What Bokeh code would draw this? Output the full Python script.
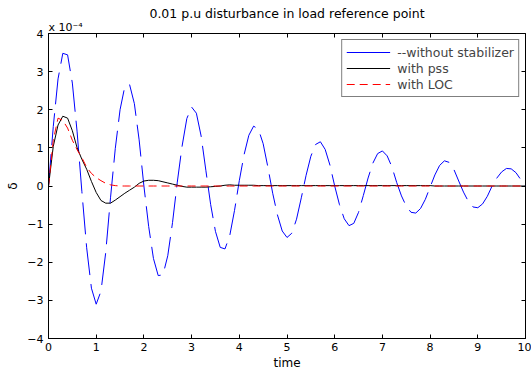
from bokeh.plotting import figure
from bokeh.models import Range1d, FixedTicker, LinearAxis, Title, Legend, LegendItem, ColumnDataSource
from bokeh.embed import file_html
from bokeh.resources import INLINE

# time axis (s)
time = [round(i * 0.1, 1) for i in range(101)]

# delta (x 1e-4) without stabilizer
without_stabilizer = [
    0.00, 1.56, 2.81, 3.48, 3.44, 2.70, 1.42, -0.15, -1.62, -2.68,
    -3.10, -2.76, -1.74, -0.31, 0.98, 2.00, 2.61, 2.66, 2.16, 1.21,
    0.00, -1.06, -1.90, -2.35, -2.33, -1.83, -0.96, 0.10, 1.04, 1.77,
    2.07, 1.91, 1.31, 0.40, -0.49, -1.19, -1.61, -1.65, -1.30, -0.64,
    0.14, 0.82, 1.33, 1.57, 1.49, 1.11, 0.49, -0.19, -0.76, -1.18,
    -1.35, -1.24, -0.87, -0.31, 0.28, 0.78, 1.09, 1.16, 0.96, 0.55,
    0.00, -0.49, -0.86, -1.04, -0.98, -0.69, -0.25, 0.21, 0.60, 0.85,
    0.92, 0.79, 0.50, 0.09, -0.26, -0.53, -0.69, -0.71, -0.59, -0.35,
    -0.03, 0.29, 0.54, 0.66, 0.62, 0.43, 0.13, -0.16, -0.40, -0.55,
    -0.57, -0.47, -0.27, 0.00, 0.21, 0.37, 0.46, 0.45, 0.35, 0.17,
    0.00,
]

# delta (x 1e-4) with pss
with_pss = [
    0.00, 1.04, 1.60, 1.83, 1.78, 1.45, 1.00, 0.70, 0.44, 0.12,
    -0.17, -0.38, -0.45, -0.45, -0.37, -0.28, -0.19, -0.11, -0.03, 0.07,
    0.13, 0.15, 0.15, 0.14, 0.11, 0.08, 0.05, 0.02, -0.01, -0.03,
    -0.03, -0.03, -0.03, -0.03, -0.02, -0.01, 0.00, 0.02, 0.03, 0.02,
    0.02, 0.02, 0.02, 0.02, 0.01, 0.01, 0.01, 0.01, 0.01, 0.01,
    0.01, 0.01, 0.01, 0.01, 0.01, 0.01, 0.01, 0.01, 0.01, 0.01,
    0.01, 0.01, 0.01, 0.01, 0.01, 0.01, 0.01, 0.01, 0.01, 0.01,
    0.01, 0.01, 0.01, 0.01, 0.01, 0.01, 0.01, 0.01, 0.01, 0.01,
    0.01, 0.00, 0.00, 0.00, 0.00, 0.00, 0.00, 0.00, 0.00, 0.00,
    0.00, 0.00, 0.00, 0.00, 0.00, 0.00, 0.00, 0.00, 0.00, 0.00,
    0.00,
]

# delta (x 1e-4) with LOC
with_loc = [
    0.00, 1.20, 1.78, 1.72, 1.52, 1.20, 0.95, 0.74, 0.49, 0.33,
    0.22, 0.14, 0.07, 0.03, 0.01, 0.00, 0.00, 0.00, 0.00, 0.00,
] + [0.00] * 81

x_ticks = [0, 1, 2, 3, 4, 5, 6, 7, 8, 9, 10]
y_ticks = [-4, -3, -2, -1, 0, 1, 2, 3, 4]

FONT = "DejaVu Sans"

p = figure(width=531, height=372, output_backend="svg", toolbar_location=None,
           x_range=Range1d(0, 10), y_range=Range1d(-4, 4),
           min_border_left=48, min_border_right=6, min_border_top=33, min_border_bottom=30)
p.grid.visible = False
p.outline_line_color = "black"
p.outline_line_width = 1
p.background_fill_color = "white"
p.border_fill_color = "white"

for ax, ticks in ((p.xaxis[0], x_ticks), (p.yaxis[0], y_ticks)):
    ax.ticker = FixedTicker(ticks=ticks)
    ax.major_tick_in = 4
    ax.major_tick_out = 0
    ax.minor_tick_line_color = None
    ax.axis_line_color = "black"
    ax.major_label_text_font = FONT
    ax.major_label_text_font_size = "11px"
    ax.major_label_text_color = "black"
    ax.axis_label_text_font = FONT
    ax.axis_label_text_font_size = "12px"
    ax.axis_label_text_font_style = "normal"
    ax.axis_label_text_color = "black"
p.xaxis.major_label_standoff = 4
p.yaxis.major_label_standoff = 5
p.xaxis.axis_label = "time"
p.xaxis.axis_label_standoff = 2
p.yaxis.axis_label = "δ"
p.yaxis.axis_label_standoff = 4

# box ticks on right and top (no labels)
for loc, ticks in (("right", y_ticks), ("above", x_ticks)):
    a = LinearAxis(ticker=FixedTicker(ticks=ticks))
    a.major_tick_in = 4
    a.major_tick_out = 0
    a.minor_tick_line_color = None
    a.axis_line_color = None
    a.major_label_text_font_size = "0px"
    a.major_label_text_color = None
    a.major_label_standoff = 0
    p.add_layout(a, loc)

# exponent label, then title (stacked outward from the frame)
p.add_layout(Title(text="x 10⁻⁴", align="left", text_font=FONT, text_font_size="11px",
                   text_font_style="normal", text_color="black", standoff=0), "above")
p.add_layout(Title(text="0.01 p.u disturbance in load reference point", align="center",
                   text_font=FONT, text_font_size="12.5px", text_font_style="normal",
                   text_color="black", standoff=-4), "above")

src = ColumnDataSource(dict(t=time, a=without_stabilizer, b=with_pss, c=with_loc))
p.line("t", "a", source=src, line_color="#0000ff", line_width=1, line_dash="32 9")
p.line("t", "b", source=src, line_color="black", line_width=1)
p.line("t", "c", source=src, line_color="#ff0000", line_width=1, line_dash="8 5")

nan = float("nan")
leg_src = ColumnDataSource(dict(x=[nan], y=[nan]))
r1 = p.line("x", "y", source=leg_src, line_color="#0000ff", line_width=1)
r2 = p.line("x", "y", source=leg_src, line_color="black", line_width=1)
r3 = p.line("x", "y", source=leg_src, line_color="#ff0000", line_width=1, line_dash="8 5")

legend = Legend(items=[LegendItem(label="--without stabilizer", renderers=[r1]),
                       LegendItem(label="with pss", renderers=[r2]),
                       LegendItem(label="with LOC", renderers=[r3])],
                location="top_right", margin=6, padding=4, spacing=0,
                label_height=16, glyph_height=16, glyph_width=44, label_standoff=7,
                label_text_font=FONT, label_text_font_size="12.5px",
                border_line_color="black", border_line_width=1,
                background_fill_alpha=1.0)
p.add_layout(legend, "center")

open("out.html", "w").write(file_html(p, INLINE))
